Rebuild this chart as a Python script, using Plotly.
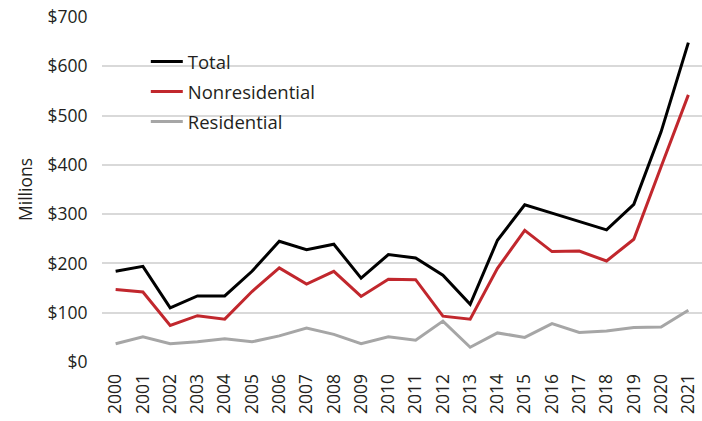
import plotly.graph_objects as go

years = [str(y) for y in range(2000, 2022)]
total = [184, 194, 110, 134, 134, 184, 245, 228, 239, 170, 218, 211, 176, 117, 247, 319,
         302, 285, 268, 320, 467, 648]
nonresidential = [147, 142, 74, 94, 87, 143, 191, 158, 184, 133, 168, 167, 93, 87, 190, 267,
                  224, 225, 205, 249, 396, 542]
residential = [37, 51, 37, 41, 47, 41, 53, 69, 56, 37, 51, 44, 83, 30, 59, 50,
               78, 60, 63, 70, 71, 105]
y_ticks = [0, 100, 200, 300, 400, 500, 600, 700]
y_tick_text = ["$" + str(v) for v in y_ticks]

FONT = "Open Sans"
TEXT = "#231f20"

fig = go.Figure()
series = [("Total", total, "#000000"),
          ("Nonresidential", nonresidential, "#c1272d"),
          ("Residential", residential, "#a6a6a6")]
for i, (name, vals, col) in enumerate(series):
    fig.add_trace(go.Scatter(x=years, y=vals, name=name, mode="lines",
                             legendgroup=str(i),
                             line=dict(color=col, width=3)))

fig.update_layout(
    width=702, height=421,
    margin=dict(l=102, r=0, t=17, b=59),
    paper_bgcolor="white", plot_bgcolor="white",
    font=dict(family=FONT, color=TEXT, size=17.5),
    showlegend=True,
    legend=dict(x=0.073, y=0.925, xanchor="left", yanchor="top",
                font=dict(size=18.5, family=FONT, color=TEXT),
                bgcolor="rgba(0,0,0,0)", traceorder="grouped",
                tracegroupgap=3, itemwidth=32),
    xaxis=dict(type="category", tickangle=-90, showgrid=False, showline=False,
               ticks="outside", ticklen=4, tickcolor="rgba(0,0,0,0)",
               tickfont=dict(size=17.5), range=[-0.5, 21.5], automargin=False),
    yaxis=dict(range=[0, 700], tickvals=y_ticks, ticktext=y_tick_text,
               showgrid=True, gridcolor="#d9d9d9", gridwidth=1.5,
               zeroline=False, showline=False,
               ticks="outside", ticklen=10, tickcolor="rgba(0,0,0,0)",
               tickfont=dict(size=17.5), automargin=False,
               title=dict(text="Millions", font=dict(size=17.5), standoff=10)),
)

fig.write_html("out.html", config={"displayModeBar": False},
               post_script="document.body.style.margin='0';")
